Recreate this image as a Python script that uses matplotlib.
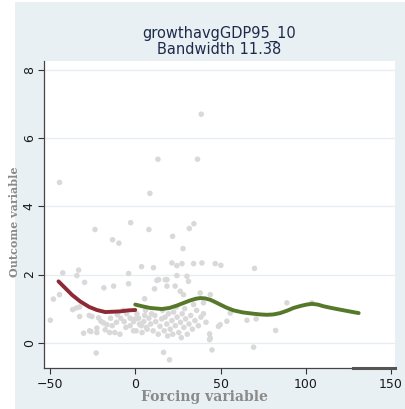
import matplotlib
matplotlib.use("Agg")
import matplotlib.pyplot as plt
from matplotlib.patches import Rectangle

# ---- data ----
scatter_x = [
    -49.8, -48.0, -44.4, -44.4, -42.5, -33.2, -34.2, -29.7, -36.7, -34.5, -32.6, -32.6, -25.4,
    -23.6, -22.9, -18.4, -12.7, -13.3, -9.6, -21.5, -20.1, -18.6, -30.3, -26.8, -26.0, -22.5,
    -22.5, -17.6, -16.6, -27.0,
    -3.9, -3.9, -2.7, 3.7, 10.7, 12.7, 11.3, 5.5, 8.6, 8.0, 13.3,
    -14.5, -11.0, -8.5, -6.5, -5.5, -3.0, -1.0, 0.5, 2.0, 3.5, 5.0, 6.5, 8.0, 9.0, 10.5, 12.0,
    13.5, 14.5, -12.0, -9.0, -1.0, 4.0, -15.0, -7.0, 1.0, 6.0, 9.5, -10.5, 15.5, 16.6, 20.1,
    17.6, 24.4, 30.3, 31.2, 23.4, 26.4, 28.3, 38.1, 44.0, 34.2, 40.0, 21.5, 24.4, 27.4, 34.2,
    39.1, 46.9, 50.2, 69.9, 21.9, 28.0, 31.7, 34.4, 36.5, 38.7, 13.7, 18.6, 18.6,
    16.0, 17.5, 18.5, 19.5, 20.5, 21.5, 22.5, 23.5, 24.5, 25.5, 26.5, 27.5, 28.5, 29.5, 30.5,
    31.5, 32.5, 33.5, 35.0, 36.0, 37.0, 38.5, 40.0, 41.5, 43.6, 43.6, 45.0, 44.0, 19.0, 22.0,
    27.0, 17.0, 24.0, 29.0,
    48.8, 49.8, 55.7, 53.7, 65.5, 70.9, 69.4, 82.3, 88.9, 103.6,
    -3.0, 2.5, 7.0, 11.5, -5.0, 0.0, -13.5, 5.5,
]
scatter_y = [
    0.66, 1.28, 1.41, 4.70, 2.05, 2.13, 1.97, 1.77, 0.97, 1.02, 1.05, 0.77, 0.77,
    3.32, -0.30, 1.61, 1.66, 3.02, 2.92, 0.73, 0.63, 0.58, 0.28, 0.35, 0.33, 0.43,
    0.30, 0.38, 0.53, 0.80,
    2.03, 1.73, 3.52, 2.23, 2.20, 1.83, 1.58, 1.29, 4.38, 3.32, 5.38,
    0.72, 0.60, 0.72, 0.62, 0.45, 0.72, 0.62, 0.35, 0.72, 0.50, 0.62, 0.45, 0.72, 0.55, 0.35, 0.62,
    0.25, 0.48, 0.30, 0.25, 0.35, 0.30, 0.30, 0.95, 0.85, 0.95, 0.85, 0.82, 0.70, -0.28, -0.50,
    1.85, 1.97, 1.95, 1.80, 1.66, 1.51, 1.41, 1.46, 1.41, 1.12, 1.17, 2.34, 2.26, 2.32, 2.32,
    2.34, 2.32, 2.27, 2.18, 3.12, 2.76, 3.35, 3.49, 5.38, 6.70, 1.85, 1.85, 1.66,
    0.95, 0.75, 0.55, 0.85, 0.40, 0.65, 0.90, 0.50, 0.75, 0.30, 0.60, 0.85, 0.45, 0.70, 0.25,
    0.55, 0.80, 0.40, 0.65, 0.95, 0.50, 0.75, 0.85, 0.60, 0.26, 0.09, -0.21, 0.14, 0.20, 0.25,
    0.15, 0.35, 1.05, 1.00,
    0.48, 0.53, 0.87, 0.63, 0.66, 0.70, -0.13, 0.36, 1.17, 1.17,
    0.50, 0.55, 0.40, 0.80, 0.85, 0.70, 0.50, 0.80,
]

left_fit_x = [-45.0, -41.0, -37.0, -32.2, -27.0, -22.5, -17.6, -13.0, -8.8, -4.0, 0.0]
left_fit_y = [1.80, 1.60, 1.40, 1.21, 1.05, 0.96, 0.90, 0.91, 0.92, 0.95, 0.96]

right_fit_x = [0.0, 4.0, 8.8, 15.6, 20.0, 24.4, 28.5, 32.2, 35.5, 38.1, 41.0, 44.0, 47.0,
               49.8, 53.5, 57.6, 63.0, 69.4, 73.5, 77.2, 81.0, 85.0, 89.0, 92.8, 97.0,
               100.5, 103.6, 107.0, 110.4, 115.0, 120.2, 125.5, 131.0]
right_fit_y = [1.12, 1.07, 1.02, 0.99, 1.02, 1.09, 1.17, 1.24, 1.29, 1.31, 1.30, 1.26, 1.19,
               1.12, 1.03, 0.95, 0.89, 0.85, 0.83, 0.82, 0.83, 0.87, 0.94, 1.02, 1.08,
               1.12, 1.14, 1.12, 1.07, 1.02, 0.97, 0.92, 0.87]

title_text = "growthavgGDP95_10\nBandwidth 11.38"
xlabel_text = "Forcing variable"
ylabel_text = "Outcome variable"
xticks = [-50, 0, 50, 100, 150]
yticks = [0, 2, 4, 6, 8]

# ---- figure ----
bg = "#e9f0f3"
fig = plt.figure(figsize=(4.06, 4.09), dpi=100, facecolor=bg)
# white crop margins of the original image
fig.patches.append(Rectangle((0, 0), 15 / 406, 1, transform=fig.transFigure,
                             facecolor="white", edgecolor="none", zorder=0))
fig.patches.append(Rectangle((0, 1 - 2 / 409), 1, 2 / 409, transform=fig.transFigure,
                             facecolor="white", edgecolor="none", zorder=0))

ax = fig.add_axes([44 / 406, 1 - 368 / 409, 351 / 406, 307 / 409])
ax.set_facecolor("white")
ax.set_xlim(-53.5, 152.3)
ax.set_ylim(-0.74, 8.26)

ax.set_yticks(yticks)
ax.set_xticks(xticks)
ax.yaxis.grid(True, color="#e6edf1", lw=0.9)
ax.set_axisbelow(True)

ax.scatter(scatter_x, scatter_y, s=16, color="#d9d9d9", edgecolors="none", zorder=2)
ax.plot(left_fit_x, left_fit_y, color="#8e2a35", lw=2.8, solid_capstyle="round", zorder=3)
ax.plot(right_fit_x, right_fit_y, color="#55782a", lw=2.8, solid_capstyle="round", zorder=3)

for s in ["top", "right"]:
    ax.spines[s].set_visible(False)
for s in ["left", "bottom"]:
    ax.spines[s].set_color("#444444")
    ax.spines[s].set_linewidth(0.9)
ax.axhline(-0.74, xmin=0.88, xmax=1.0, color="#555555", lw=2.2, clip_on=False, zorder=4)

ax.tick_params(axis="both", colors="#333333", length=4, width=0.8, labelsize=9,
               labelcolor="#1a1a1a")
ax.tick_params(axis="y", length=4, pad=2)
for lab in ax.get_yticklabels():
    lab.set_rotation(90)
    lab.set_va("center")

ax.set_title(title_text, fontsize=10.5, color="#1e2a4a", pad=5, linespacing=1.0)

fig.text(204 / 406, 1 - 397 / 409, xlabel_text, ha="center", va="center",
         fontsize=10, family="DejaVu Serif", weight="bold", color="#8a8a8a")
fig.text(14.5 / 406, 1 - 222 / 409, ylabel_text, ha="center", va="center", rotation=90,
         fontsize=8, family="DejaVu Serif", weight="bold", color="#8a8a8a")

fig.savefig("out.png", dpi=100, facecolor=bg)
